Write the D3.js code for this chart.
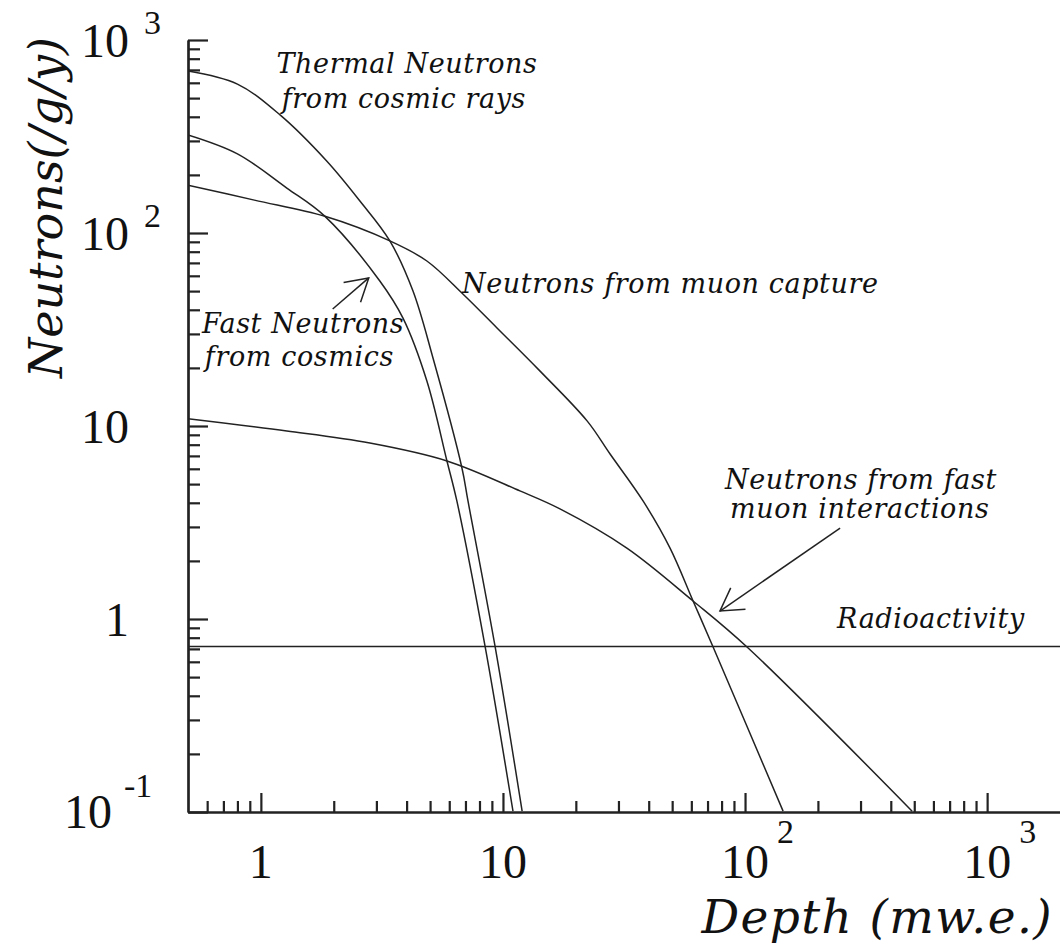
<!DOCTYPE html>
<html>
<head>
<meta charset="utf-8">
<script src="https://cdn.jsdelivr.net/npm/d3@7"></script>
<style>
  body { margin: 0; background: #fff; }
  svg { display: block; background: #fff; }
  .curve { fill: none; stroke: #222; stroke-width: 1.5; }
  .axis path, .axis line { stroke: #222; stroke-width: 2.2; }
  .lab { font-family: "DejaVu Serif", serif; font-style: italic; fill: #111; }
  .ticklab { font-family: "Liberation Serif", "Times New Roman", serif; fill: #111; }
</style>
</head>
<body>
<svg width="1060" height="949"></svg>
<script>
// depth in m.w.e. / neutrons per gram per year
var thermalDepth = [0.5, 0.8, 1.2, 1.87, 2.57, 3.41, 4.25, 5.14, 6.77, 7.17, 9.27, 12.0];
var thermalFlux  = [691, 591, 409, 236, 146, 91, 50, 22.5, 6.06, 4.09, 0.725, 0.101];

var fastDepth = [0.5, 0.8, 1.28, 1.84, 3.10, 3.86, 4.85, 5.87, 6.45, 8.43, 11.0];
var fastFlux  = [322, 257, 171, 122, 56.4, 36.3, 17.1, 6.59, 4.09, 0.725, 0.101];

var captureDepth = [0.5, 0.94, 1.84, 3.41, 4.85, 6.83, 9.45, 14.2, 22.3, 27.7, 37.9, 49.0, 61.0, 73.8, 143.6];
var captureFlux  = [177, 148, 122, 91, 71.6, 48.3, 32.2, 19.3, 10.6, 7.16, 4.09, 2.33, 1.24, 0.716, 0.101];

var fastMuonDepth = [0.5, 1.28, 2.82, 5.87, 11.75, 17.2, 32.5, 61.0, 101.9, 490];
var fastMuonFlux  = [10.9, 9.42, 8.16, 6.59, 4.61, 3.72, 2.33, 1.24, 0.716, 0.101];

var radioDepth = [0.5, 2000];
var radioFlux  = [0.72, 0.72];

var xMajor = [1, 10, 100, 1000];
var xTickBase = ["1", "10", "10", "10"];
var xTickExp  = ["", "", "2", "3"];

var yMajor = [0.1, 1, 10, 100, 1000];
var yTickBase = ["10", "1", "10", "10", "10"];
var yTickExp  = ["-1", "", "", "2", "3"];

// annotation texts, anchored in data coordinates
var noteText  = ["Thermal Neutrons", "from cosmic rays", "Neutrons from muon capture",
                 "Fast Neutrons", "from cosmics", "Neutrons from fast", "muon interactions", "Radioactivity"];
var noteDepth = [1.16, 1.22, 6.77, 0.571, 0.587, 82.7, 86.7, 240];
var noteFlux  = [674, 444, 48.9, 30.3, 20.5, 4.72, 3.34, 0.898];

// arrows: [from depth, from flux, to depth, to flux]
var arrows = [[1.98, 40.4, 2.79, 58.5], [247, 2.96, 78.8, 1.10]];

var svg = d3.select('svg');

var x = d3.scaleLog().domain([0.5, 2000]).range([188, 1060]);
var y = d3.scaleLog().domain([0.1, 1000]).range([812, 40]);

function minorTicks(lo, hi, majors) {
  var out = [];
  [0.1, 1, 10, 100].forEach(function(d) {
    for (var k = 2; k <= 9; k++) {
      var v = +(d * k).toPrecision(3);
      if (v > lo && v < hi && majors.indexOf(v) < 0) out.push(v);
    }
  });
  return out;
}

svg.append('defs').append('clipPath').attr('id', 'plot')
  .append('rect').attr('x', 188).attr('y', 40).attr('width', 872).attr('height', 772);

svg.append('defs').append('marker')
  .attr('id', 'open')
  .attr('viewBox', '-26 -15 30 30')
  .attr('markerUnits', 'userSpaceOnUse')
  .attr('markerWidth', 30).attr('markerHeight', 30)
  .attr('refX', 0).attr('refY', 0)
  .attr('orient', 'auto')
  .append('path')
  .attr('d', 'M-22,-13L0,0L-22,13')
  .attr('fill', 'none').attr('stroke', '#222').attr('stroke-width', 1.5);

// axes, ticks point inward
svg.append('g').attr('class', 'axis')
  .attr('transform', 'translate(0,812)')
  .call(d3.axisBottom(x).tickValues(xMajor).tickSize(-19).tickSizeOuter(0).tickFormat(''));
svg.append('g').attr('class', 'axis')
  .attr('transform', 'translate(0,812)')
  .call(d3.axisBottom(x).tickValues(minorTicks(0.5, 2000, xMajor)).tickSize(-11).tickSizeOuter(0).tickFormat(''));

svg.append('g').attr('class', 'axis')
  .attr('transform', 'translate(188,0)')
  .call(d3.axisLeft(y).tickValues(yMajor).tickSize(-20).tickSizeOuter(0).tickFormat(''));
svg.append('g').attr('class', 'axis')
  .attr('transform', 'translate(188,0)')
  .call(d3.axisLeft(y).tickValues(minorTicks(0.1, 1000, yMajor)).tickSize(-12).tickSizeOuter(0).tickFormat(''));

// tick labels with superscript exponents
xMajor.forEach(function(v, i) {
  svg.append('text').attr('class', 'ticklab')
    .attr('x', x(v)).attr('y', 878)
    .attr('text-anchor', 'middle').attr('font-size', 48)
    .text(xTickBase[i]);
  if (xTickExp[i]) {
    svg.append('text').attr('class', 'ticklab')
      .attr('x', x(v) + 32).attr('y', 843)
      .attr('font-size', 34)
      .text(xTickExp[i]);
  }
});

yMajor.forEach(function(v, i) {
  var neg = yTickExp[i].charAt(0) == '-';
  svg.append('text').attr('class', 'ticklab')
    .attr('x', neg ? 112 : 129).attr('y', y(v) + (neg ? 16 : 17))
    .attr('text-anchor', 'end').attr('font-size', 48)
    .text(yTickBase[i]);
  if (yTickExp[i]) {
    svg.append('text').attr('class', 'ticklab')
      .attr('x', neg ? 124 : 144).attr('y', y(v) + (neg ? -15 : -6))
      .attr('font-size', 34)
      .text(yTickExp[i]);
  }
});

// curves
var line = d3.line()
  .x(function(d) { return x(d[0]); })
  .y(function(d) { return y(d[1]); })
  .curve(d3.curveCatmullRom.alpha(0.5));

var series = [
  [thermalDepth, thermalFlux],
  [fastDepth, fastFlux],
  [captureDepth, captureFlux],
  [fastMuonDepth, fastMuonFlux],
  [radioDepth, radioFlux]
];

svg.append('g').attr('clip-path', 'url(#plot)')
  .selectAll('path')
  .data(series)
  .enter()
  .append('path')
  .attr('class', 'curve')
  .attr('d', function(s) { return line(d3.zip(s[0], s[1])); });

// annotations
noteText.forEach(function(t, i) {
  svg.append('text').attr('class', 'lab')
    .attr('x', x(noteDepth[i])).attr('y', y(noteFlux[i]))
    .attr('font-size', 27)
    .attr('letter-spacing', 0.6)
    .text(t);
});

svg.selectAll('.arrow')
  .data(arrows)
  .enter()
  .append('line')
  .attr('class', 'arrow')
  .attr('x1', function(d) { return x(d[0]); })
  .attr('y1', function(d) { return y(d[1]); })
  .attr('x2', function(d) { return x(d[2]); })
  .attr('y2', function(d) { return y(d[3]); })
  .attr('stroke', '#222').attr('stroke-width', 1.5)
  .attr('marker-end', 'url(#open)');

// axis titles
svg.append('text').attr('class', 'lab')
  .attr('x', 1053).attr('y', 933)
  .attr('text-anchor', 'end').attr('font-size', 47)
  .attr('letter-spacing', 1.4)
  .text('Depth (mw.e.)');

svg.append('text').attr('class', 'lab')
  .attr('transform', 'translate(62,378) rotate(-90)')
  .attr('font-size', 46)
  .text('Neutrons(/g/y)');
</script>
</body>
</html>
